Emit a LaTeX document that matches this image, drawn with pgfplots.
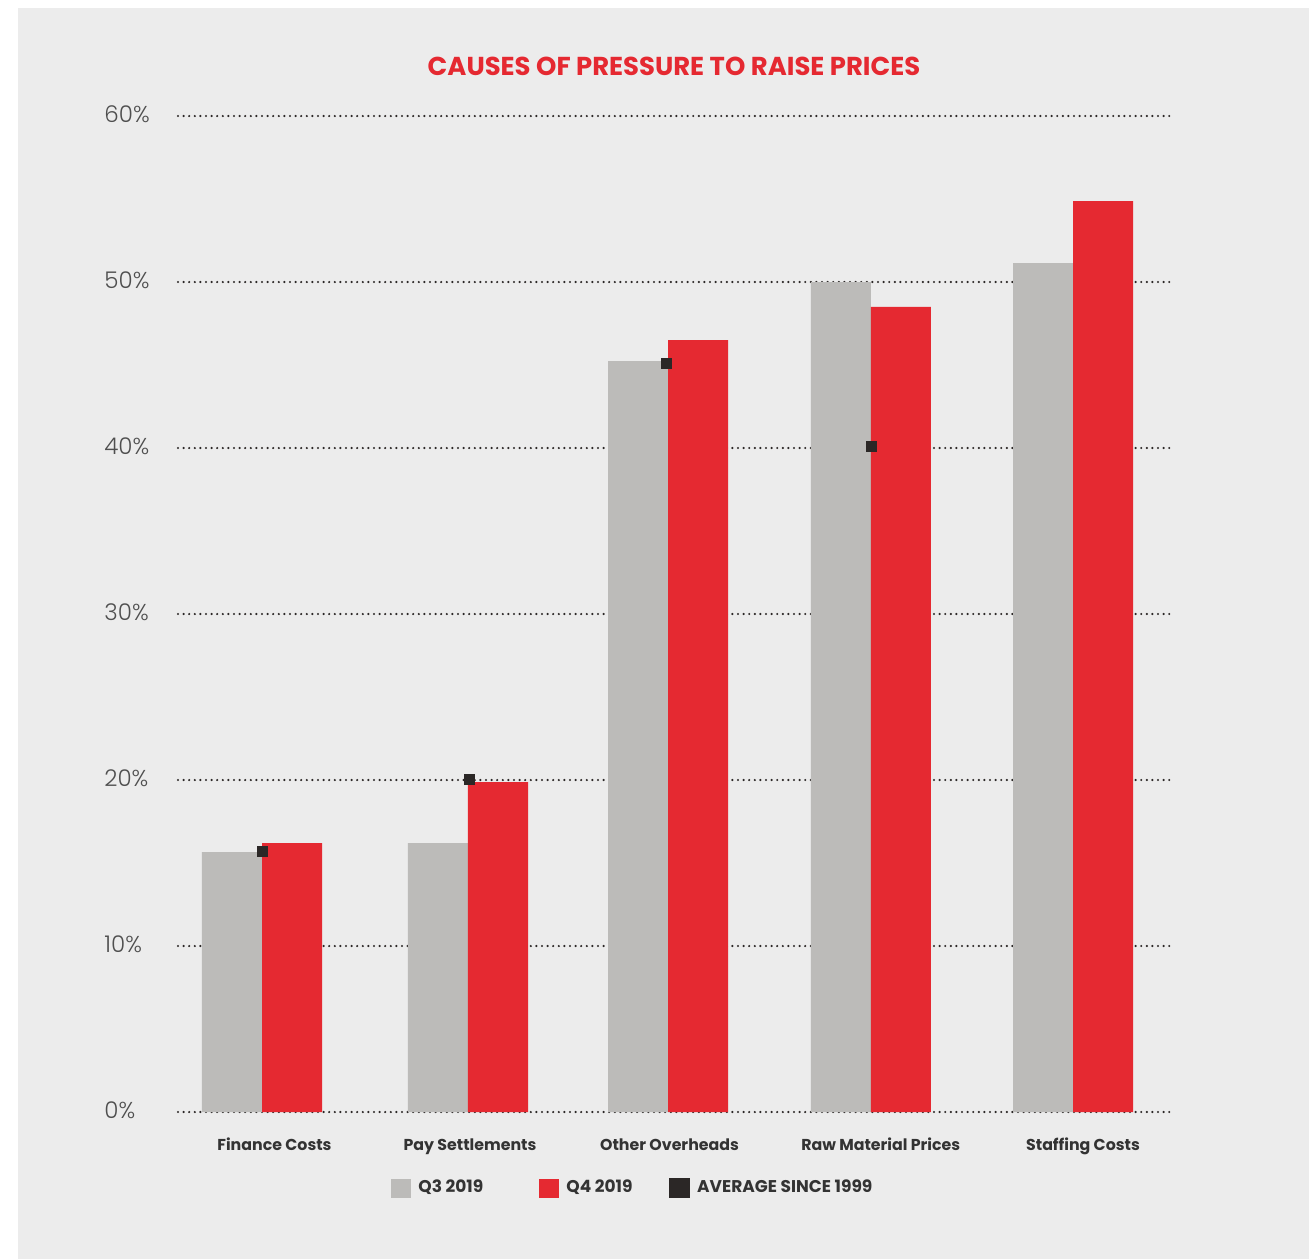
\documentclass[border=0pt]{standalone}
\usepackage{pgfplots}
\pgfplotsset{compat=1.18}
\usepackage{fontspec}
\setmainfont{Poppins}
\newfontfamily\lightfont{Poppins Light}
\definecolor{panel}{HTML}{ECECEC}
\definecolor{qthree}{HTML}{BCBBB9}
\definecolor{qfour}{HTML}{E52931}
\definecolor{avg}{HTML}{2B2726}
\definecolor{txt}{HTML}{333333}
\definecolor{ticktxt}{HTML}{4F4F4F}
\begin{document}
\begin{tikzpicture}
\fill[white] (-89pt,-73.5pt) rectangle (565.5pt,556pt);
\fill[panel] (-80pt,-73.5pt) rectangle (565.5pt,552pt);
\begin{axis}[
  at={(0,0)}, anchor=south west,
  scale only axis, width=496pt, height=498pt,
  xmin=-0.4143, xmax=4.4784, ymin=0, ymax=60,
  axis line style={draw=none},
  major tick length=0pt,
  ytick={0,10,20,30,40,50,60},
  yticklabels={0\%,10\%,20\%,30\%,40\%,50\%,60\%},
  yticklabel style={anchor=west, xshift=-37pt, yshift=0.8pt, inner sep=0pt, font=\lightfont\fontsize{11.5}{13}\selectfont, text=ticktxt},
  xtick={0,1.016,2.0025,3.0025,4},
  xticklabels={\hspace*{12.5pt}Finance Costs, \hspace*{2pt}Pay Settlements, \hspace*{1.5pt}Other Overheads, \hspace*{10pt}Raw Material Prices, \hspace*{10pt}Staffing Costs},
  xticklabel style={anchor=base, yshift=-19pt, font=\bfseries\fontsize{7.9}{10}\selectfont, text=txt},
  ymajorgrids,
  grid style={line width=1.2pt, avg, line cap=round, dash pattern=on 0pt off 2.8pt},
  clip=false,
  legend columns=3,
  legend style={at={(0.2147,-0.0763)}, anchor=west, draw=none, fill=none, inner sep=0pt,
    font=\bfseries\fontsize{8.5}{10}\selectfont, text=txt,
    /tikz/every even column/.append style={column sep=0pt},
    /tikz/every odd column/.append style={column sep=0pt}},
]
\addplot[ybar, bar width=0.296, bar shift=-0.148, fill=qthree, draw=none,
  legend image code/.code={\fill[qthree] (0pt,-4.75pt) rectangle (10pt,4.75pt);}]
  coordinates {(0,15.66) (1.016,16.2) (2.0025,45.24) (3.0025,50.0) (4,51.14)};
\addlegendentry{\hspace*{1.5pt}\makebox[58.5pt][l]{Q3 2019}}
\addplot[ybar, bar width=0.296, bar shift=0.148, fill=qfour, draw=none,
  legend image code/.code={\fill[qfour] (0pt,-4.75pt) rectangle (10pt,4.75pt);}]
  coordinates {(0,16.2) (1.016,19.88) (2.0025,46.5) (3.0025,48.5) (4,54.88)};
\addlegendentry{\hspace*{1.5pt}\makebox[49.5pt][l]{Q4 2019}}
\addplot[only marks, mark=square*, mark size=2.5pt, color=avg,
  legend image code/.code={\fill[avg] (0pt,-4.75pt) rectangle (10pt,4.75pt);}]
  coordinates {(0,15.72) (1.021,20.05) (1.993,45.12) (3.0037,40.1)};
\addlegendentry{\hspace*{1.5pt}AVERAGE SINCE 1999}
\end{axis}
\node[anchor=base, text=qfour, font=\bfseries\fontsize{12.95}{15}\selectfont] at (248pt,518pt) {CAUSES OF PRESSURE TO RAISE PRICES};
\end{tikzpicture}
\end{document}
